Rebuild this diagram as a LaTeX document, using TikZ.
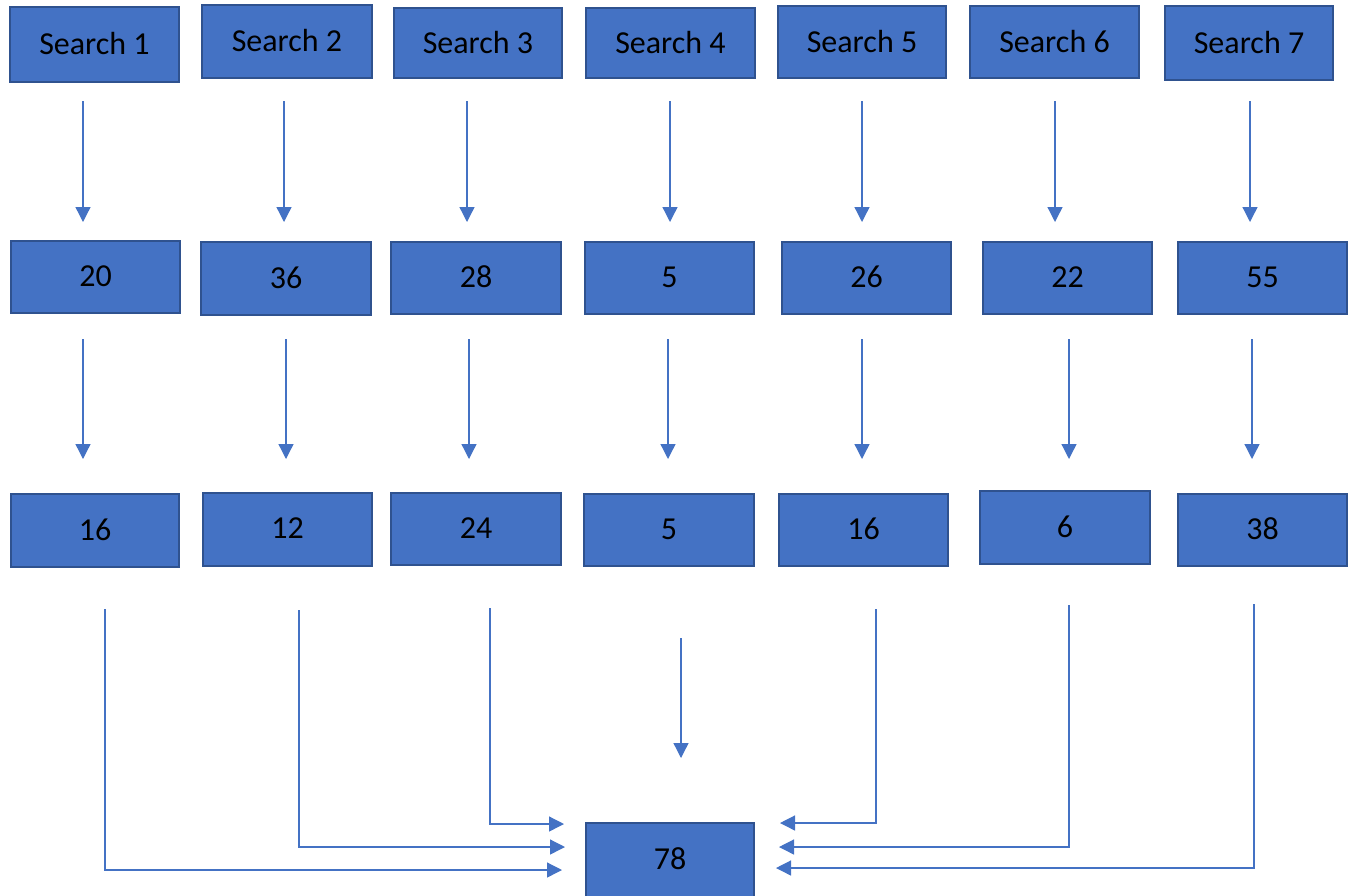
\documentclass[tikz,border=0pt]{standalone}
\usepackage{fontspec}
\setmainfont{Carlito}
\usetikzlibrary{arrows.meta}
\definecolor{boxfill}{HTML}{4472C4}
\definecolor{boxline}{HTML}{2F528F}
\definecolor{arrowc}{HTML}{4472C4}
\begin{document}
\begin{tikzpicture}[x=1pt,y=-1pt,
  bx/.style={draw=boxline,line width=1.8pt,fill=boxfill,inner sep=0pt,
    font=\fontsize{32}{34}\selectfont,text=black},
  conn/.style={draw=arrowc,line width=1.3pt,-{Triangle[length=15pt,width=15pt]}}]
\useasboundingbox (0,0) rectangle (1356,895);
\newcommand{\bx}[6]{\node[bx,minimum width={#4-#2},minimum height={#5-#3}] (#1) at ({(#2+#4)/2},{(#3+#5)/2}) {\raisebox{2pt}{#6}};}
% row 1
\bx{s1}{10}{7}{179}{82}{Search 1}
\bx{s2}{202}{5}{372}{78}{Search 2}
\bx{s3}{394}{8}{562}{78}{Search 3}
\bx{s4}{586}{8}{755}{78}{Search 4}
\bx{s5}{778}{6}{946}{78}{Search 5}
\bx{s6}{970}{6}{1139}{78}{Search 6}
\bx{s7}{1165}{6}{1333}{80}{Search 7}
% row 2
\bx{a1}{11}{241}{180}{313}{20}
\bx{a2}{201}{242}{371}{315}{36}
\bx{a3}{391}{242}{561}{314}{28}
\bx{a4}{585}{242}{754}{314}{5}
\bx{a5}{782}{242}{951}{314}{26}
\bx{a6}{983}{242}{1152}{314}{22}
\bx{a7}{1178}{242}{1347}{314}{55}
% row 3
\bx{b1}{11}{494}{179}{567}{16}
\bx{b2}{203}{493}{372}{566}{12}
\bx{b3}{391}{493}{561}{565}{24}
\bx{b4}{584}{494}{754}{566}{5}
\bx{b5}{779}{494}{948}{566}{16}
\bx{b6}{980}{491}{1150}{564}{6}
\bx{b7}{1178}{494}{1347}{566}{38}
% result
\bx{r}{586}{823}{754}{897}{78}
% arrows row1 -> row2
\foreach \i/\x in {1/83,2/284,3/467,4/670,5/862,6/1055,7/1250}{
  \coordinate (p\i) at (\x,101); \coordinate (q\i) at (\x,222);
  \draw[conn] (p\i) -- (q\i);}
% arrows row2 -> row3
\foreach \i/\x in {1/83,2/286,3/469,4/668,5/862,6/1069,7/1252}{
  \coordinate (u\i) at (\x,339); \coordinate (v\i) at (\x,459);
  \draw[conn] (u\i) -- (v\i);}
% bottom
\coordinate (m1) at (681,638); \coordinate (m2) at (681,758);
\draw[conn] (m1) -- (m2);
\coordinate (l1) at (105,609); \coordinate (l1e) at (562,870);
\draw[conn] (l1) |- (l1e);
\coordinate (l2) at (299,610); \coordinate (l2e) at (565,847);
\draw[conn] (l2) |- (l2e);
\coordinate (l3) at (490,608); \coordinate (l3e) at (564,824);
\draw[conn] (l3) |- (l3e);
\coordinate (r1) at (876,609); \coordinate (r1e) at (780,823);
\draw[conn] (r1) |- (r1e);
\coordinate (r2) at (1069,605); \coordinate (r2e) at (779,847);
\draw[conn] (r2) |- (r2e);
\coordinate (r3) at (1254,604); \coordinate (r3e) at (776,868);
\draw[conn] (r3) |- (r3e);
\end{tikzpicture}
\end{document}
